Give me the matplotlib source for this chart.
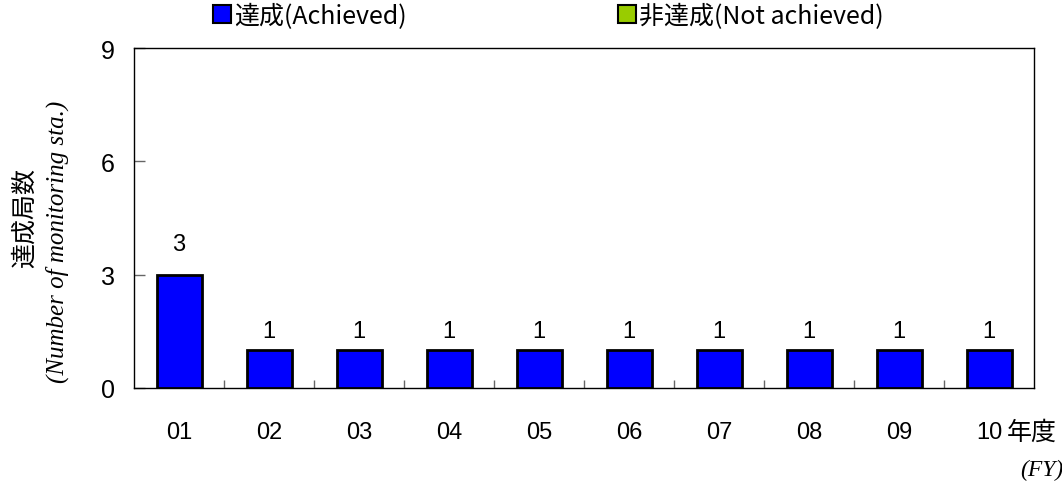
import numpy as np
import matplotlib.pyplot as plt
from matplotlib.lines import Line2D

years = ['01', '02', '03', '04', '05', '06', '07', '08', '09', '10']
achieved = [3, 1, 1, 1, 1, 1, 1, 1, 1, 1]
not_achieved = [0, 0, 0, 0, 0, 0, 0, 0, 0, 0]

plt.rcParams['font.family'] = ['Noto Sans CJK JP', 'DejaVu Sans']

fig = plt.figure(figsize=(10.62, 4.85), dpi=100)
ax = fig.add_axes([134 / 1062, 1 - 389 / 485, 900 / 1062, 340 / 485])

x = np.arange(len(years))
ax.bar(x, achieved, width=0.5, color='#0000ff', edgecolor='black', linewidth=2, zorder=3)
ax.bar(x, not_achieved, bottom=achieved, width=0.5, color='#99cc00', edgecolor='black', linewidth=0, zorder=3)

for xi, v in zip(x, achieved):
    off = 14 if v > 2 else 6
    ax.annotate(str(v), (xi, v), xytext=(0, off), textcoords='offset points',
                ha='center', va='bottom', fontsize=17, family='Liberation Sans')

ax.set_xlim(-0.5, len(years) - 0.5)
ax.set_ylim(0, 9)
ax.set_yticks([0, 3, 6, 9])
ax.set_yticklabels(['0', '3', '6', '9'], family='Liberation Sans', fontsize=18)
ax.tick_params(axis='y', direction='in', length=8, width=1, color='#666666', pad=14)

ax.set_xticks(x)
ax.set_xticklabels(years, family='Liberation Sans', fontsize=17)
ax.tick_params(axis='x', which='major', length=0, pad=24)
ax.set_xticks(np.arange(0.5, len(years) - 1, 1), minor=True)
ax.tick_params(axis='x', which='minor', direction='in', length=6, width=1, color='#666666')

for s in ax.spines.values():
    s.set_linewidth(1)

# y label: Japanese + italic English
fig.text(25 / 1062, 1 - 218 / 485, '達成局数', rotation=90, ha='center', va='center', fontsize=18)
fig.text(57 / 1062, 1 - 242 / 485, '(Number of monitoring sta.)', rotation=90, ha='center', va='center',
         fontsize=18, family='Liberation Serif', style='italic')

# x label
fig.text(1032 / 1062, 1 - 433 / 485, '年度', ha='center', va='center', fontsize=18)
fig.text(1042 / 1062, 1 - 470 / 485, '(FY)', ha='center', va='center', fontsize=17,
         family='Liberation Serif', style='italic')

handles = [Line2D([], [], marker='s', linestyle='none', markersize=13, markerfacecolor='#0000ff',
                  markeredgecolor='black', markeredgewidth=1.5),
           Line2D([], [], marker='s', linestyle='none', markersize=13, markerfacecolor='#99cc00',
                  markeredgecolor='black', markeredgewidth=1.5)]
leg = fig.legend(handles, ['達成(Achieved)', '非達成(Not achieved)'], loc='center',
                 bbox_to_anchor=(548 / 1062, 1 - 17 / 485), ncol=2, frameon=False, fontsize=18,
                 handletextpad=0.1, columnspacing=8.4, handlelength=0.8, borderpad=0)

fig.savefig('out.png', dpi=100)
